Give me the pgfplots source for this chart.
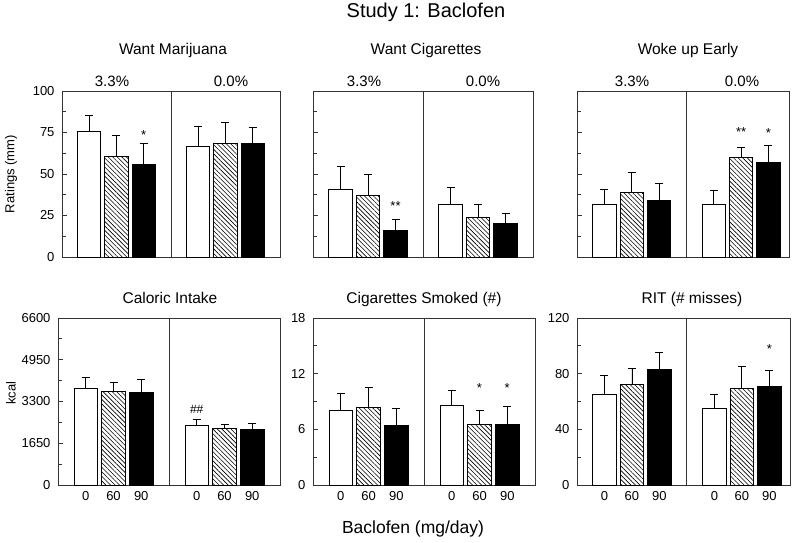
\documentclass[border=0pt]{standalone}
\usepackage{pgfplots}
\pgfplotsset{compat=1.18}
\usetikzlibrary{patterns.meta}
\usepackage{fontspec}
\setmainfont{Liberation Sans}

\newcommand{\fs}[1]{\fontsize{#1}{#1}\selectfont}

\pgfplotsset{
  panel/.style={
    scale only axis, anchor=south west,
    xmin=0, xmax=8, ymin=0,
    axis line style={draw=black!80, line width=0.9pt},
    every tick/.style={draw=black!80, line width=0.9pt},
    tick align=inside, ytick pos=left,
    major tick length=5pt, minor tick length=4pt,
    minor y tick num=1,
    xtick=\empty,
    xtick style={draw=none},
    extra x ticks={4}, extra x tick labels={},
    extra x tick style={grid=major, major grid style={draw=black!80, line width=0.9pt}},
    ticklabel style={font=\fs{13}},
    yticklabel style={xshift=-4pt},
    /pgf/number format/assume math mode=true,
    /pgf/number format/1000 sep={},
    scaled y ticks=false,
    clip=false,
  },
  toprow/.style={panel, height=166pt, ymax=100, ytick={0,25,50,75,100}},
  botrow/.style={panel, height=167pt, xtick={1,2,3,5,6,7},
    xticklabels={0,60,90,0,60,90}, xticklabel style={yshift=-2.5pt}},
  bar/.style={ybar, bar width=0.85, bar shift=0pt, draw=black, line width=0.9pt,
    error bars/y dir=plus, error bars/y explicit,
    error bars/error bar style={line width=0.9pt, black},
    error bars/error mark options={rotate=90, mark size=4pt, line width=0.9pt, black}},
  wbar/.style={bar, fill=white},
  hbar/.style={bar, pattern={Lines[angle=-45,distance=3.2pt,line width=0.6pt]}},
  kbar/.style={bar, fill=black},
}
\tikzset{star/.style={font=\fs{13}, anchor=base, yshift=-7.5pt}}

\begin{document}
\begin{tikzpicture}
\path[use as bounding box] (0pt,0pt) rectangle (800pt,542pt);

% ---- top row ----
\begin{axis}[toprow, at={(62pt,285pt)}, width=218pt]
\addplot[wbar] coordinates {(1,75.8) +- (0,9.2) (5,66.8) +- (0,12)};
\addplot[hbar] coordinates {(2,60.8) +- (0,12.2) (6,68.2) +- (0,12.8)};
\addplot[kbar] coordinates {(3,56) +- (0,12.2) (7,68.2) +- (0,9.6)};
\node[star] at (axis cs:3,75.4) {*};
\end{axis}

\begin{axis}[toprow, at={(313pt,285pt)}, width=220pt, yticklabels={}]
\addplot[wbar] coordinates {(1,40.8) +- (0,14) (5,31.8) +- (0,10.2)};
\addplot[hbar] coordinates {(2,37.2) +- (0,12.8) (6,24) +- (0,7.8)};
\addplot[kbar] coordinates {(3,16) +- (0,6.4) (7,20) +- (0,6.4)};
\node[star] at (axis cs:3,32.8) {**};
\end{axis}

\begin{axis}[toprow, at={(577pt,285pt)}, width=212pt, xmax=7.75, yticklabels={}]
\addplot[wbar] coordinates {(1,31.8) +- (0,9) (5,31.4) +- (0,8.6)};
\addplot[hbar] coordinates {(2,38.6) +- (0,12.2) (6,60.2) +- (0,5.6)};
\addplot[kbar] coordinates {(3,34) +- (0,10.6) (7,57) +- (0,10)};
\node[star] at (axis cs:6,77.4) {**};
\node[star] at (axis cs:7,76.4) {*};
\end{axis}

% ---- bottom row ----
\begin{axis}[botrow, at={(58pt,57pt)}, width=222pt, ymax=6600,
  ytick={0,1650,3300,4950,6600}]
\addplot[wbar] coordinates {(1,3828) +- (0,409) (5,2363) +- (0,224)};
\addplot[hbar] coordinates {(2,3683) +- (0,369) (6,2218) +- (0,184)};
\addplot[kbar] coordinates {(3,3656) +- (0,502) (7,2191) +- (0,251)};
\node[font=\fs{12}, anchor=base, yshift=-4pt] at (axis cs:5,2970) {\#\#};
\end{axis}

\begin{axis}[botrow, at={(313pt,57pt)}, width=222pt, ymax=18, ytick={0,6,12,18}]
\addplot[wbar] coordinates {(1,7.99) +- (0,1.84) (5,8.6) +- (0,1.59)};
\addplot[hbar] coordinates {(2,8.39) +- (0,2.11) (6,6.55) +- (0,1.44)};
\addplot[kbar] coordinates {(3,6.44) +- (0,1.84) (7,6.55) +- (0,1.91)};
\node[star] at (axis cs:6,10.8) {*};
\node[star] at (axis cs:7,10.8) {*};
\end{axis}

\begin{axis}[botrow, at={(577pt,57pt)}, width=213pt, xmax=7.75, ymax=120,
  ytick={0,40,80,120}]
\addplot[wbar] coordinates {(1,64.8) +- (0,13.7) (5,55.2) +- (0,9.6)};
\addplot[hbar] coordinates {(2,72) +- (0,12) (6,69.6) +- (0,15.4)};
\addplot[kbar] coordinates {(3,82.8) +- (0,12.7) (7,70.6) +- (0,12)};
\node[star] at (axis cs:7,99.6) {*};
\end{axis}

% ---- texts ----
\node[font=\fs{20}, anchor=base] at (426pt,524pt) {Study 1: Baclofen};
\begin{scope}[every node/.style={font=\fs{15.5}, anchor=base}]
\node at (173pt,487pt) {Want Marijuana};
\node at (426pt,487pt) {Want Cigarettes};
\node at (688pt,487pt) {Woke up Early};
\node at (170pt,239pt) {Caloric Intake};
\node at (424pt,239pt) {Cigarettes Smoked (\#)};
\node at (692pt,239pt) {RIT (\# misses)};
\end{scope}
\begin{scope}[every node/.style={font=\fs{15}, anchor=base}]
\node at (112pt,455pt) {3.3\%};
\node at (231pt,455pt) {0.0\%};
\node at (364pt,455pt) {3.3\%};
\node at (483pt,455pt) {0.0\%};
\node at (632pt,455pt) {3.3\%};
\node at (742pt,455pt) {0.0\%};
\end{scope}
\node[font=\fs{13}, rotate=90] at (11pt,368pt) {Ratings (mm)};
\node[font=\fs{13}, rotate=90] at (11pt,149pt) {kcal};
\node[font=\fs{17.5}, anchor=base] at (413pt,9pt) {Baclofen (mg/day)};
\end{tikzpicture}
\end{document}
